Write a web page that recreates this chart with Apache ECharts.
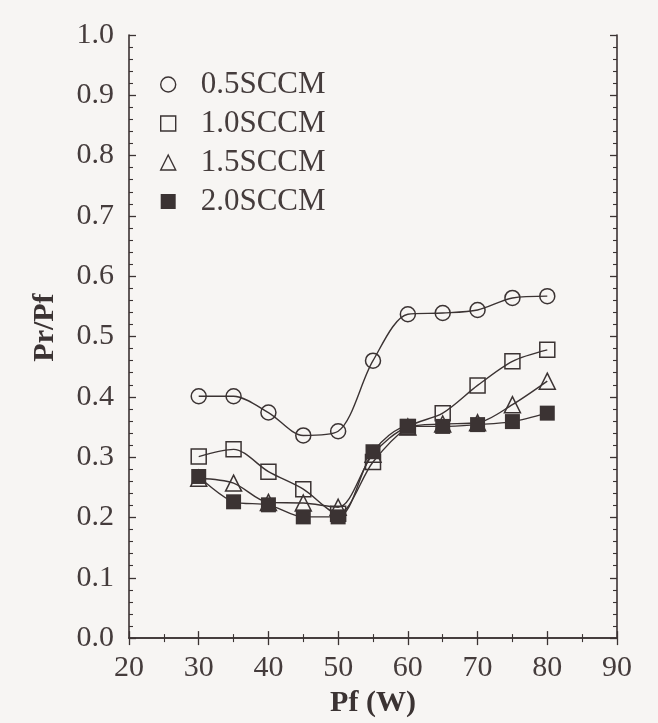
<!DOCTYPE html>
<html>
<head>
<meta charset="utf-8">
<script src="https://cdn.jsdelivr.net/npm/echarts@6/dist/echarts.min.js"></script>
<style>
  html, body { margin: 0; padding: 0; background: #f7f5f3; }
  #chart { width: 658px; height: 723px; }
</style>
</head>
<body>
<div id="chart"></div>
<script>
// Forward power (W)
const pf = [30, 35, 40, 45, 50, 55, 60, 65, 70, 75, 80];

// Reflected / forward power ratio for each gas flow
const sccm05 = [0.401, 0.401, 0.374, 0.336, 0.343, 0.460, 0.537, 0.539, 0.544, 0.564, 0.567];
const sccm10 = [0.301, 0.313, 0.276, 0.247, 0.206, 0.292, 0.350, 0.373, 0.419, 0.459, 0.478];
const sccm15 = [0.265, 0.257, 0.225, 0.224, 0.217, 0.305, 0.350, 0.355, 0.357, 0.387, 0.426];
const sccm20 = [0.268, 0.226, 0.221, 0.201, 0.201, 0.309, 0.351, 0.351, 0.354, 0.359, 0.373];

const seriesNames = ['0.5SCCM', '1.0SCCM', '1.5SCCM', '2.0SCCM'];

const ink = '#3b3333';
const textInk = '#453c3c';
const fontFamily = '"Liberation Serif", "DejaVu Serif", serif';
const fontSize = 30;

function pairs(ys) { return pf.map((x, i) => [x, ys[i]]); }

function makeSeries(name, ys, symbol, filled, size) {
  return {
    name: name,
    type: 'line',
    data: pairs(ys),
    smooth: 0.3,
    symbol: symbol,
    symbolSize: size,
    showAllSymbol: true,
    lineStyle: { color: ink, width: 1.4 },
    itemStyle: {
      color: filled ? ink : 'rgba(0,0,0,0)',
      borderColor: ink,
      borderWidth: filled ? 0 : 1.5
    },
    emphasis: { disabled: true },
    z: filled ? 3 : 2
  };
}

const boxAxisX = {
  type: 'value', min: 20, max: 90, interval: 10,
  axisLine: { show: true, lineStyle: { color: ink, width: 1.6 } },
  axisTick: { show: true, inside: true, length: 7, lineStyle: { color: ink, width: 1.3 } },
  minorTick: { show: true, splitNumber: 2, length: 4, lineStyle: { color: ink, width: 1.1 } },
  splitLine: { show: false }
};
const boxAxisY = {
  type: 'value', min: 0, max: 1, interval: 0.1,
  axisLine: { show: true, lineStyle: { color: ink, width: 1.6 } },
  axisTick: { show: true, inside: true, length: 7, lineStyle: { color: ink, width: 1.3 } },
  minorTick: { show: true, splitNumber: 5, length: 4, lineStyle: { color: ink, width: 1.1 } },
  splitLine: { show: false }
};

const chart = echarts.init(document.getElementById('chart'), null, { renderer: 'canvas' });
chart.setOption({
  backgroundColor: '#f7f5f3',
  animation: false,
  grid: { left: 129, right: 41, top: 35, bottom: 84 },
  legend: {
    orient: 'vertical',
    left: 155,
    top: 64,
    itemGap: 8,
    itemWidth: 15,
    itemHeight: 15,
    data: [
      { name: seriesNames[0], icon: 'circle', itemStyle: { borderWidth: 1.4 } },
      { name: seriesNames[1], icon: 'rect', itemStyle: { borderWidth: 1.4 } },
      { name: seriesNames[2], icon: 'triangle', itemStyle: { borderWidth: 1.4 } },
      { name: seriesNames[3], icon: 'rect' }
    ],
    textStyle: {
      fontFamily: fontFamily, fontSize: 31, color: textInk,
      lineHeight: 31, padding: [0, 0, 0, 20]
    },
    selectedMode: false
  },
  xAxis: [
    Object.assign({}, boxAxisX, {
      position: 'bottom',
      name: 'Pf (W)',
      nameLocation: 'middle',
      nameGap: 49,
      nameTextStyle: { fontFamily: fontFamily, fontSize: fontSize, fontWeight: 'bold', color: ink },
      axisLabel: { fontFamily: fontFamily, fontSize: fontSize, color: textInk, margin: 15 }
    }),
    Object.assign({}, boxAxisX, { position: 'top', axisLabel: { show: false } })
  ],
  yAxis: [
    Object.assign({}, boxAxisY, {
      position: 'left',
      name: 'Pr/Pf',
      nameLocation: 'middle',
      nameGap: 69,
      nameTextStyle: {
        fontFamily: fontFamily, fontSize: fontSize, fontWeight: 'bold', color: ink,
        padding: [0, 0, 0, 18]
      },
      axisLabel: {
        fontFamily: fontFamily, fontSize: fontSize, color: textInk, margin: 15,
        padding: [0, 0, 16, 0],
        formatter: v => v.toFixed(1)
      }
    }),
    Object.assign({}, boxAxisY, { position: 'right', axisLabel: { show: false } })
  ],
  series: [
    makeSeries(seriesNames[0], sccm05, 'circle', false, 15),
    makeSeries(seriesNames[1], sccm10, 'rect', false, 15),
    makeSeries(seriesNames[2], sccm15, 'triangle', false, 16),
    makeSeries(seriesNames[3], sccm20, 'rect', true, 15)
  ]
});
</script>
</body>
</html>
